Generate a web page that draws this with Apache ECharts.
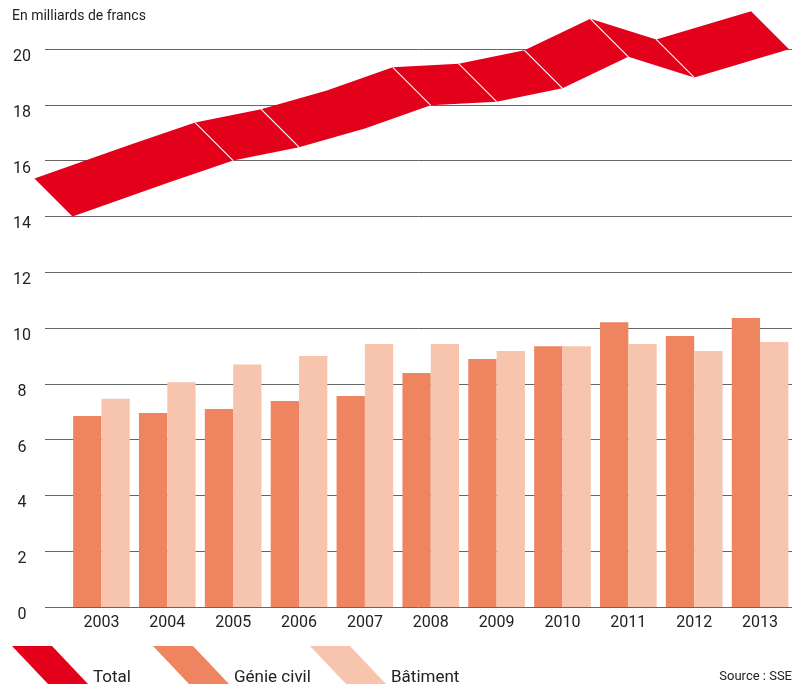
<!DOCTYPE html>
<html>
<head>
<meta charset="utf-8">
<title>Construction</title>
<script src="https://cdn.jsdelivr.net/npm/echarts@6/dist/echarts.min.js"></script>
<style>
  html, body { margin: 0; padding: 0; background: #fff; }
  #main { width: 793px; height: 684px; }
</style>
</head>
<body>
<div id="main"></div>
<script>
// données (milliards de francs)
var years = ['2003', '2004', '2005', '2006', '2007', '2008', '2009', '2010', '2011', '2012', '2013'];
var genieCivil = [6.85, 6.95, 7.10, 7.38, 7.56, 8.39, 8.89, 9.35, 10.21, 9.71, 10.36];
var batiment = [7.46, 8.06, 8.69, 9.00, 9.43, 9.43, 9.18, 9.35, 9.43, 9.18, 9.50];
var total = [14.0, 15.2, 16.0, 16.48, 17.15, 17.98, 18.11, 18.59, 19.72, 18.98, 19.99];
// années où le ruban montre un trait blanc
var totalBreaks = ['2005', '2006', '2008', '2009', '2010', '2011', '2012'];

var RED = '#E2001A', GENIE = '#EE8460', BATI = '#F7C5AE';
var FONT = 'Roboto';
var SLANT = 38; // décalage diagonal du ruban (px)

var chart = echarts.init(document.getElementById('main'));

// tout le ruban est dessiné d'un seul polygone par le premier élément
function renderTotal(params, api) {
  if (params.dataIndex !== 0) return { type: 'group', children: [] };
  var n = total.length;
  var half = api.size([1, 0])[0] * 0.44;
  var low = [], up = [];
  for (var k = 0; k < n; k++) {
    var p = api.coord([k, total[k]]);
    if (k === 0) p[0] -= half;
    if (k === n - 1) p[0] += half;
    low.push(p);
    up.push([p[0] - SLANT, p[1] - SLANT]);
  }
  var kids = [{
    type: 'polygon',
    shape: { points: low.concat(up.slice().reverse()) },
    style: { fill: RED }
  }];
  for (var j = 0; j < n; j++) {
    if (totalBreaks.indexOf(years[j]) < 0) continue;
    kids.push({
      type: 'line',
      shape: { x1: low[j][0], y1: low[j][1], x2: up[j][0], y2: up[j][1] },
      style: { stroke: '#fff', lineWidth: 1.1 }
    });
  }
  return { type: 'group', children: kids };
}

var legendBase = {
  orient: 'horizontal',
  top: 646,
  padding: 0,
  itemWidth: 76,
  itemHeight: 38,
  selectedMode: false,
  formatter: '{a|{name}}',
  textStyle: {
    fontFamily: FONT, fontSize: 17, color: '#222',
    rich: { a: { fontFamily: FONT, fontSize: 17, color: '#222', padding: [26, 0, 0, 0] } }
  }
};
var ICON = 'path://M0,0 L40,0 L76,38 L36,38 Z';

chart.setOption({
  animation: false,
  textStyle: { fontFamily: FONT },
  title: {
    text: 'En milliards de francs',
    left: 12,
    top: 9,
    padding: 0,
    textStyle: { fontFamily: FONT, fontSize: 14, fontWeight: 'normal', color: '#222' }
  },
  legend: [
    Object.assign({}, legendBase, { left: 12, data: [{ name: 'Total', icon: ICON }] }),
    Object.assign({}, legendBase, { left: 153, data: [{ name: 'Génie civil', icon: ICON }] }),
    Object.assign({}, legendBase, { left: 310, data: [{ name: 'Bâtiment', icon: ICON }] })
  ],
  graphic: [{
    type: 'text',
    right: 1,
    top: 670,
    style: { text: 'Source : SSE', font: '13px Roboto', fill: '#222' }
  }],
  grid: [
    { left: 45, right: 1, top: 49, height: 558 },
    { left: 68.5, width: 726, top: 49, height: 558 }
  ],
  xAxis: [
    { gridIndex: 0, type: 'value', show: false, min: 0, max: 1 },
    {
      gridIndex: 1,
      type: 'category',
      data: years,
      axisLine: { show: false },
      axisTick: { show: false },
      axisLabel: { fontFamily: FONT, fontSize: 16, color: '#222', margin: 8 }
    }
  ],
  yAxis: [
    {
      gridIndex: 0,
      type: 'value',
      min: 0,
      max: 20,
      interval: 2,
      axisLine: { show: false },
      axisTick: { show: false },
      splitLine: { lineStyle: { color: '#666', width: 1 } },
      axisLabel: {
        fontFamily: FONT, fontSize: 16, color: '#222',
        align: 'center', margin: 23, verticalAlign: 'top'
      }
    },
    { gridIndex: 1, type: 'value', min: 0, max: 20, show: false }
  ],
  series: [
    {
      name: 'Génie civil',
      type: 'bar',
      xAxisIndex: 1,
      yAxisIndex: 1,
      data: genieCivil,
      barGap: '0%',
      barCategoryGap: '14%',
      itemStyle: { color: GENIE }
    },
    {
      name: 'Bâtiment',
      type: 'bar',
      xAxisIndex: 1,
      yAxisIndex: 1,
      data: batiment,
      barGap: '0%',
      barCategoryGap: '14%',
      itemStyle: { color: BATI }
    },
    {
      name: 'Total',
      type: 'custom',
      xAxisIndex: 1,
      yAxisIndex: 1,
      clip: false,
      renderItem: renderTotal,
      encode: { x: 0, y: 1 },
      itemStyle: { color: RED },
      data: total.map(function (v, i) { return [i, v]; })
    }
  ]
});
</script>
</body>
</html>
